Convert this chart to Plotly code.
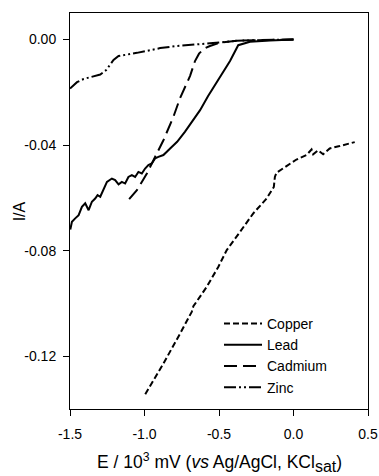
import plotly.graph_objects as go

# ---- data (E in 10^3 mV, I in A) ----
copper_x = [-0.995, -0.873, -0.761, -0.683, -0.672, -0.582, -0.505, -0.448, -0.359, -0.270,
            -0.181, -0.132, -0.125, -0.114, -0.047, 0.020, 0.087, 0.121, 0.132, 0.165,
            0.199, 0.243, 0.310, 0.400, 0.411]
copper_y = [-0.1344, -0.1228, -0.1114, -0.1032, -0.1011, -0.0937, -0.0862, -0.0798, -0.0729, -0.0659,
            -0.0603, -0.0559, -0.0521, -0.0505, -0.0480, -0.0455, -0.0438, -0.0417, -0.0435, -0.0420,
            -0.0435, -0.0413, -0.0404, -0.0392, -0.0389]

lead_x = [-1.498, -1.487, -1.465, -1.442, -1.420, -1.398, -1.375, -1.353, -1.331, -1.315,
          -1.297, -1.275, -1.252, -1.219, -1.197, -1.174, -1.152, -1.130, -1.108, -1.085,
          -1.063, -1.041, -1.018, -0.996, -0.974, -0.951, -0.929, -0.907, -0.873, -0.828,
          -0.781, -0.729, -0.681, -0.627, -0.574, -0.515, -0.426, -0.371, -0.292, -0.158, 0.0]
lead_y = [-0.0720, -0.0691, -0.0678, -0.0666, -0.0634, -0.0621, -0.0647, -0.0615, -0.0603, -0.0590,
          -0.0596, -0.0571, -0.0540, -0.0527, -0.0533, -0.0549, -0.0540, -0.0546, -0.0521, -0.0514,
          -0.0521, -0.0502, -0.0508, -0.0489, -0.0476, -0.0470, -0.0451, -0.0445, -0.0438, -0.0413,
          -0.0388, -0.0350, -0.0310, -0.0268, -0.0215, -0.0164, -0.0082, -0.0022, -0.0009, -0.0004, 0.0]

cadmium_x = [-1.103, -1.051, -1.018, -0.984, -0.929, -0.873, -0.806, -0.761, -0.694, -0.681,
             -0.661, -0.634, -0.600, -0.561, -0.493, -0.359, 0.0]
cadmium_y = [-0.0605, -0.0571, -0.0540, -0.0508, -0.0445, -0.0382, -0.0293, -0.0222, -0.0138, -0.0116,
             -0.0082, -0.0054, -0.0035, -0.0025, -0.0012, -0.0004, 0.0]

zinc_x = [-1.500, -1.453, -1.409, -1.364, -1.297, -1.257, -1.208, -1.174, -1.116, -1.051,
          -0.962, -0.895, -0.783, -0.694, -0.561, -0.381, -0.225, 0.0]
zinc_y = [-0.0186, -0.0162, -0.0150, -0.0143, -0.0133, -0.0116, -0.0078, -0.0063, -0.0056, -0.0051,
          -0.0041, -0.0033, -0.0025, -0.0022, -0.0015, -0.0005, -0.0003, 0.0]

x_ticks = [-1.5, -1.0, -0.5, 0.0, 0.5]
x_ticklabels = ["-1.5", "-1.0", "-0.5", "0.0", "0.5"]
y_ticks = [0.0, -0.04, -0.08, -0.12]
y_ticklabels = ["0.00", "-0.04", "-0.08", "-0.12"]

FONT = "Liberation Sans, Arial, sans-serif"

fig = go.Figure()
fig.add_trace(go.Scatter(x=copper_x, y=copper_y, mode="lines", name="Copper",
                         line=dict(color="black", width=2, dash="6px,3px")))
fig.add_trace(go.Scatter(x=lead_x, y=lead_y, mode="lines", name="Lead",
                         line=dict(color="black", width=2, dash="solid")))
fig.add_trace(go.Scatter(x=cadmium_x, y=cadmium_y, mode="lines", name="Cadmium",
                         line=dict(color="black", width=2, dash="13px,6px")))
fig.add_trace(go.Scatter(x=zinc_x, y=zinc_y, mode="lines", name="Zinc",
                         line=dict(color="black", width=2, dash="12px,3px,2px,3px,2px,3px")))

axis_common = dict(showgrid=False, zeroline=False, showline=True, linecolor="black",
                   linewidth=1, mirror=True, ticks="outside", ticklen=6, tickwidth=1,
                   tickcolor="black", automargin=False,
                   tickfont=dict(family=FONT, size=14, color="black"))

fig.update_xaxes(range=[-1.5, 0.5], tickvals=x_ticks, ticktext=x_ticklabels,
                 ticklabelstandoff=6, **axis_common)
fig.update_yaxes(range=[-0.14, 0.01], tickvals=y_ticks, ticktext=y_ticklabels,
                 ticklabelstandoff=4, **axis_common)

fig.update_layout(
    width=379, height=476,
    margin=dict(l=70, r=11, t=13, b=67, autoexpand=False),
    paper_bgcolor="white", plot_bgcolor="white",
    font=dict(family=FONT, color="black"),
    showlegend=True,
    legend=dict(x=0.5, y=0.255, xanchor="left", yanchor="top",
                bgcolor="rgba(0,0,0,0)", borderwidth=0, itemwidth=38,
                font=dict(family=FONT, size=14, color="black"),
                tracegroupgap=0),
    annotations=[
        dict(text="E / 10<sup>3</sup> mV (<i>vs</i> Ag/AgCl, KCl<sub><span style=\"font-size:16px\">sat</span></sub>)",
             xref="paper", yref="paper", x=0.5, y=-0.136, xanchor="center", yanchor="middle",
             showarrow=False, font=dict(family=FONT, size=17.5, color="black")),
        dict(text="I/A", xref="paper", yref="paper", x=-0.17, y=0.5, textangle=-90,
             xanchor="center", yanchor="middle", showarrow=False,
             font=dict(family=FONT, size=16, color="black")),
    ],
)

fig.write_html("out.html")
